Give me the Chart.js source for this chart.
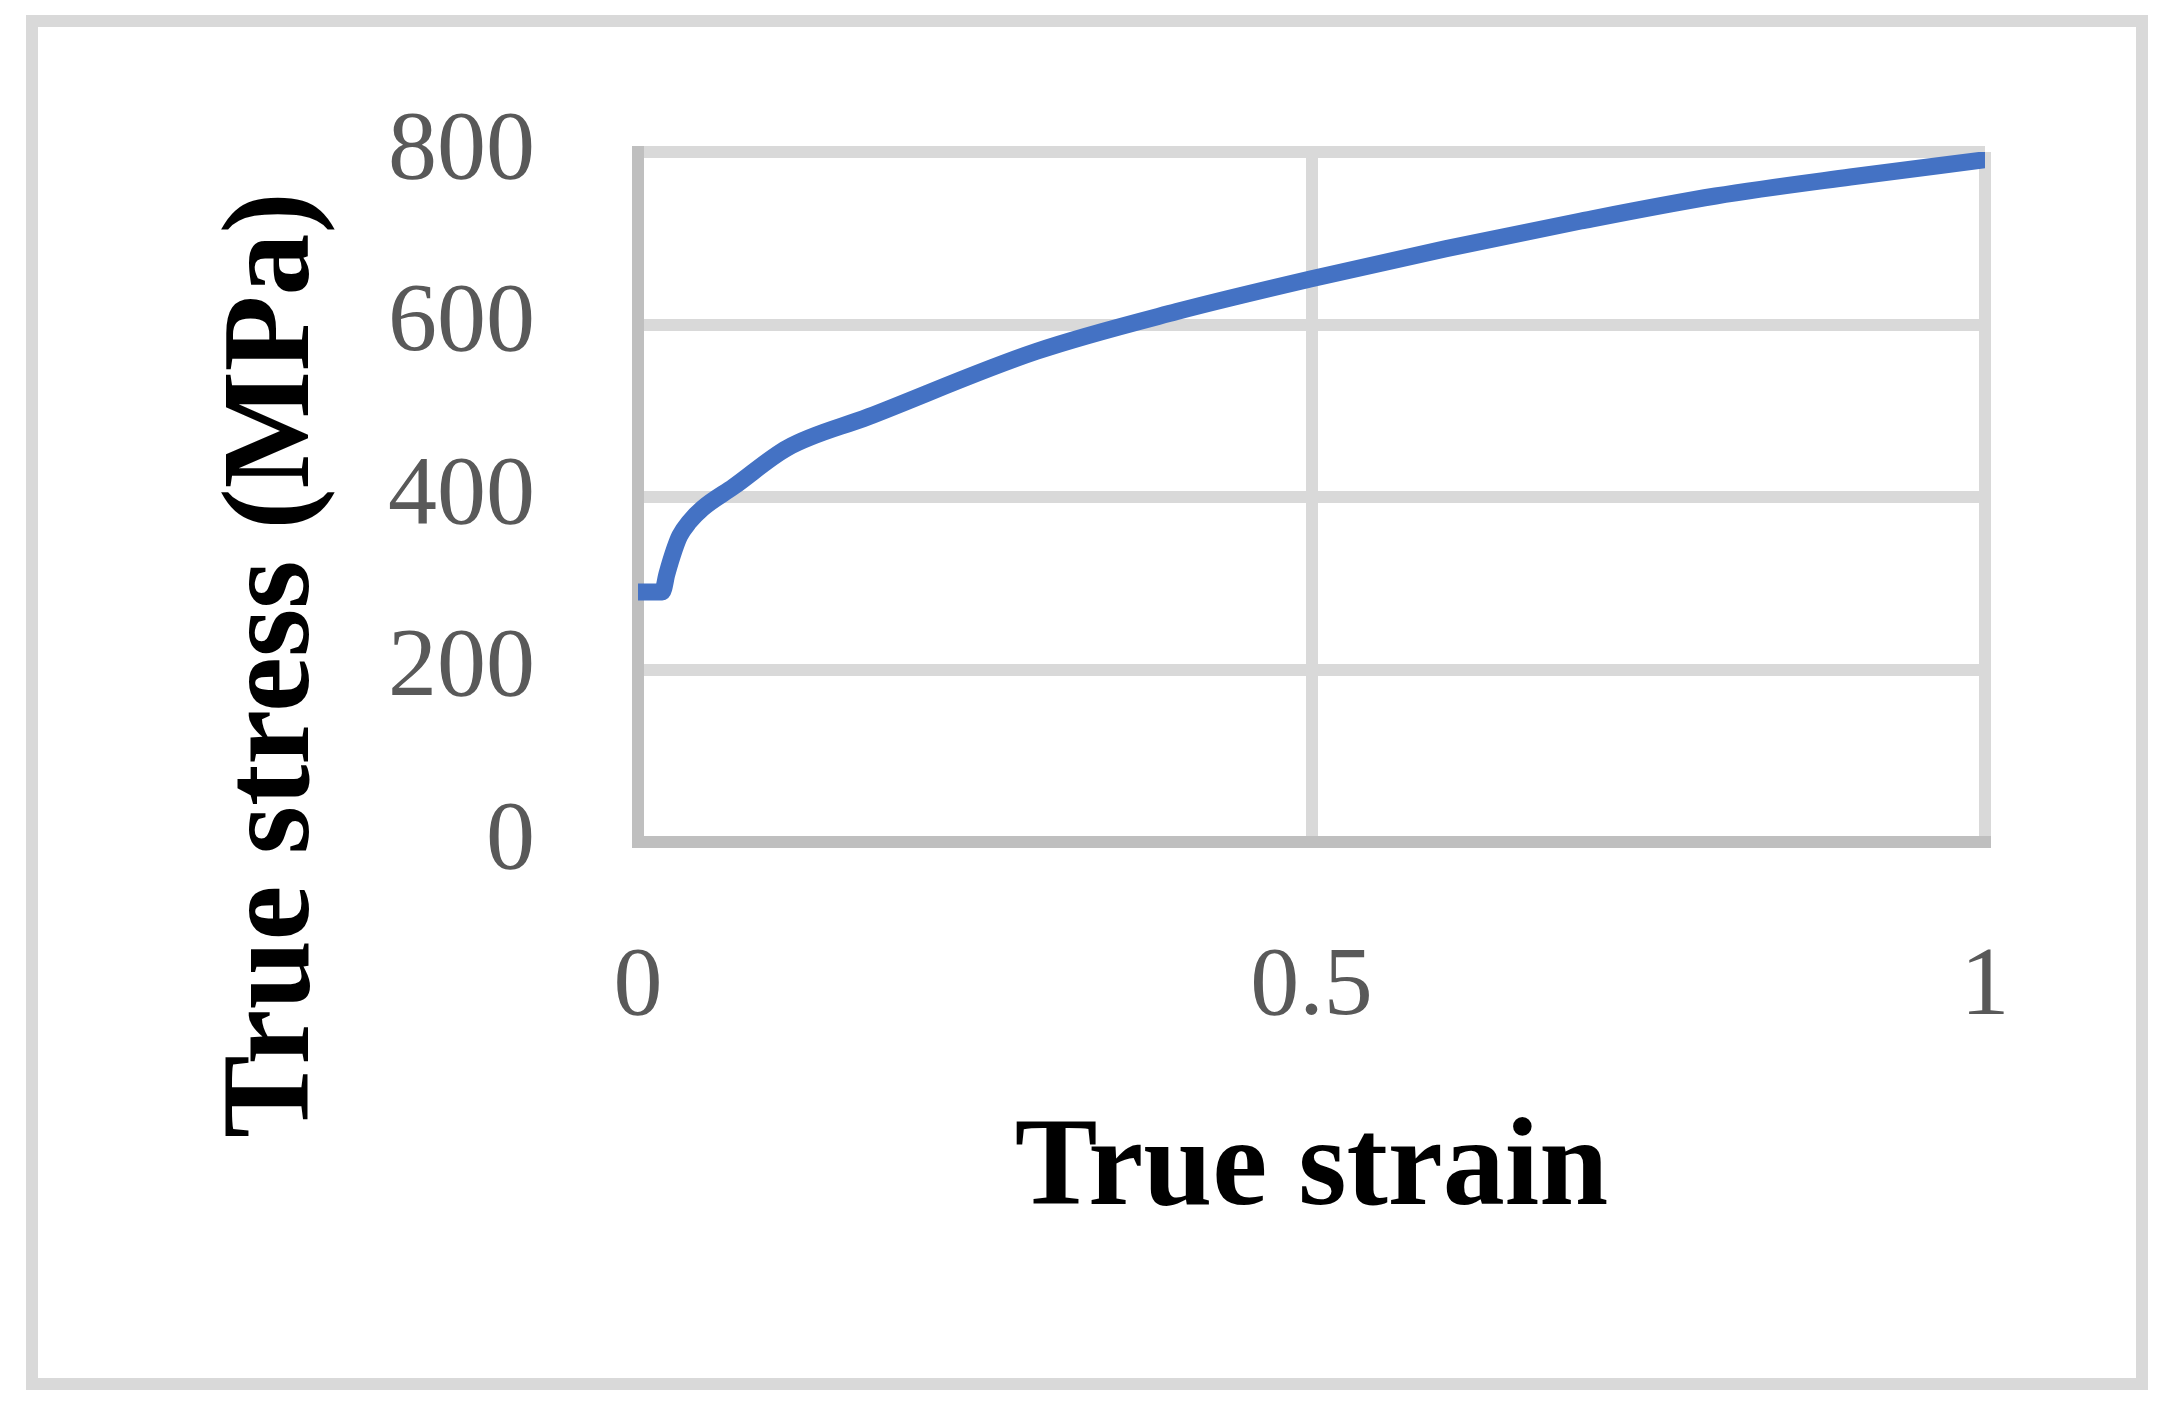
<!DOCTYPE html>
<html>
<head>
<meta charset="utf-8">
<title>True stress vs true strain</title>
<script src="https://cdn.jsdelivr.net/npm/chart.js@4"></script>
<style>
  html, body { margin: 0; padding: 0; background: #ffffff; }
  canvas { display: block; }
</style>
</head>
<body>
<canvas id="stressChart" width="2166" height="1428"></canvas>
<script>
// ==========================================
// DATA
// ==========================================

const strain = [0, 0.018, 0.0215, 0.027, 0.031, 0.038, 0.048, 0.071, 0.111, 0.171, 0.296, 0.4, 0.5, 0.6, 0.7, 0.8, 0.9, 1.0];
const stress = [290, 290, 311, 339, 355, 371, 387, 412, 457, 493, 569, 615, 653, 688, 720, 749, 771, 791];

const xTicks = [0, 0.5, 1];
const yTicks = [0, 200, 400, 600, 800];

const xTitle = "True strain";
const yTitle = "True stress (MPa)";

// ==========================================
// STYLE
// ==========================================

const LINE_BLUE = "#4472c4";
const GRID_GRAY = "#d9d9d9";
const AXIS_GRAY = "#bfbfbf";
const TICK_COLOR = "#595959";
const SERIF = "'Liberation Serif', 'Times New Roman', serif";

// outer frame + axis titles (drawn by hand so they can sit where Excel put them)
const framePlugin = {
  id: "frame",
  beforeDraw(chart) {
    const ctx = chart.ctx;
    ctx.save();
    ctx.fillStyle = "#ffffff";
    ctx.fillRect(0, 0, chart.width, chart.height);
    ctx.strokeStyle = GRID_GRAY;
    ctx.lineWidth = 12;
    ctx.strokeRect(32, 21, 2110, 1363);
    ctx.restore();
  },
  afterDraw(chart) {
    const ctx = chart.ctx;
    const area = chart.chartArea;
    ctx.save();
    ctx.fillStyle = "#000000";
    ctx.font = "bold 124px " + SERIF;
    ctx.textBaseline = "alphabetic";
    ctx.textAlign = "center";
    ctx.fillText(xTitle, (area.left + area.right) / 2, 1204);

    ctx.translate(308, 665);
    ctx.rotate(-Math.PI / 2);
    ctx.fillText(yTitle, 0, 0);
    ctx.restore();
  },
};

// ==========================================
// CHART
// ==========================================

const points = strain.map((x, i) => ({ x: x, y: stress[i] }));

new Chart(document.getElementById("stressChart").getContext("2d"), {
  type: "line",
  data: {
    datasets: [
      {
        label: yTitle,
        data: points,
        borderColor: LINE_BLUE,
        backgroundColor: LINE_BLUE,
        borderWidth: 17,
        borderCapStyle: "round",
        borderJoinStyle: "round",
        pointRadius: 0,
        fill: false,
        cubicInterpolationMode: "monotone",
      },
    ],
  },
  options: {
    responsive: false,
    devicePixelRatio: 1,
    animation: false,
    layout: {
      padding: { top: 152, right: 181, bottom: 0, left: 0 },
    },
    plugins: {
      legend: { display: false },
      tooltip: { enabled: false },
      title: { display: false },
    },
    scales: {
      x: {
        type: "linear",
        min: 0,
        max: 1,
        afterBuildTicks: (scale) => {
          scale.ticks = xTicks.map((v) => ({ value: v }));
        },
        afterFit: (scale) => {
          scale.height = 586;
        },
        grid: {
          color: GRID_GRAY,
          lineWidth: 12,
          drawTicks: false,
        },
        border: {
          display: true,
          color: AXIS_GRAY,
          width: 12,
        },
        ticks: {
          color: TICK_COLOR,
          font: { family: SERIF, size: 98 },
          padding: 87,
          maxRotation: 0,
          callback: (value) => String(value),
        },
      },
      y: {
        type: "linear",
        min: 0,
        max: 800,
        afterBuildTicks: (scale) => {
          scale.ticks = yTicks.map((v) => ({ value: v }));
        },
        afterFit: (scale) => {
          scale.width = 638;
        },
        grid: {
          color: GRID_GRAY,
          lineWidth: 12,
          drawTicks: false,
        },
        border: {
          display: true,
          color: AXIS_GRAY,
          width: 12,
        },
        ticks: {
          color: TICK_COLOR,
          // lineHeight 1 keeps chart.js from pushing the plot top down past 152
          font: { family: SERIF, size: 98, lineHeight: 1 },
          padding: 103,
          callback: (value) => String(value),
        },
      },
    },
  },
  plugins: [framePlugin],
});
</script>
</body>
</html>
